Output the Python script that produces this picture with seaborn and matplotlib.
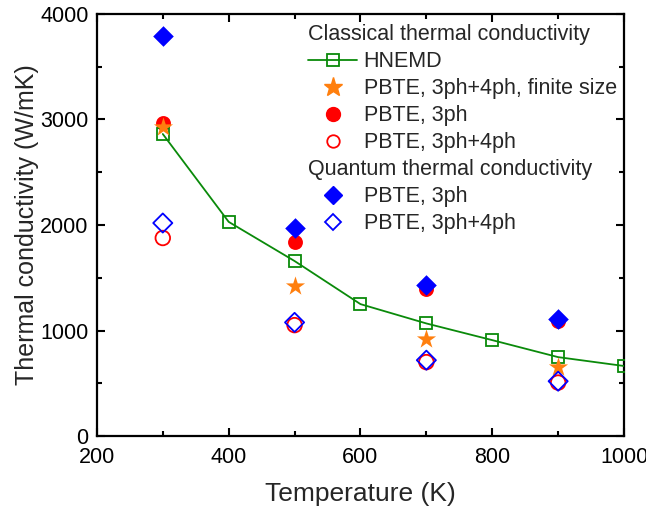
import matplotlib
matplotlib.use("Agg")
import matplotlib.pyplot as plt
import seaborn as sns
import pandas as pd
from matplotlib.lines import Line2D
from matplotlib.ticker import MultipleLocator

# ---- data ----
T_hnemd = [300, 400, 500, 600, 700, 800, 900, 1000]
k_hnemd = [2862, 2030, 1659, 1251, 1068, 910, 749, 665]

T_pbte = [300, 500, 700, 900]
k_finite = [2929, 1422, 919, 656]          # PBTE, 3ph+4ph, finite size (classical)
k_cl_3ph = [2967, 1842, 1390, 1092]        # PBTE, 3ph (classical)
k_cl_34 = [1877, 1052, 702, 508]           # PBTE, 3ph+4ph (classical)
k_q_3ph = [3791, 1972, 1431, 1109]         # PBTE, 3ph (quantum)
k_q_34 = [2019, 1078, 720, 521]            # PBTE, 3ph+4ph (quantum)

xlabel = "Temperature (K)"
ylabel = "Thermal conductivity (W/mK)"
head1 = "Classical thermal conductivity"
head2 = "Quantum thermal conductivity"
labels1 = ["HNEMD", "PBTE, 3ph+4ph, finite size", "PBTE, 3ph", "PBTE, 3ph+4ph"]
labels2 = ["PBTE, 3ph", "PBTE, 3ph+4ph"]

sns.set_style("ticks")
plt.rcParams['font.family'] = ['Liberation Sans', 'DejaVu Sans']

GREEN = "#0a8a0a"
ORANGE = "#ff7f0e"
RED = "#ff0000"
BLUE = "#0000ff"

fig = plt.figure(figsize=(6.46, 5.12), dpi=100)
ax = fig.add_axes([0.150, 0.148, 0.816, 0.825])

df_h = pd.DataFrame({"T": T_hnemd, "k": k_hnemd})
df_p = pd.DataFrame({"T": T_pbte, "fin": k_finite, "c3": k_cl_3ph, "c34": k_cl_34,
                     "q3": k_q_3ph, "q34": k_q_34})

sns.scatterplot(data=df_p, x="T", y="c3", marker="o", s=115, color=RED,
                edgecolor=RED, linewidth=0, ax=ax, legend=False, zorder=3)
sns.scatterplot(data=df_p, x="T", y="c34", marker="o", s=110, facecolor="none",
                edgecolor=RED, linewidth=1.3, ax=ax, legend=False, zorder=3)
sns.lineplot(data=df_h, x="T", y="k", color=GREEN, linewidth=1.3, marker="s",
             markersize=9, markerfacecolor="none", markeredgecolor=GREEN,
             markeredgewidth=1.3, ax=ax, legend=False, zorder=4)
sns.scatterplot(data=df_p, x="T", y="fin", marker="*", s=210, color=ORANGE,
                edgecolor=ORANGE, linewidth=0, ax=ax, legend=False, zorder=5)
sns.scatterplot(data=df_p, x="T", y="q3", marker="D", s=110, color=BLUE,
                edgecolor=BLUE, linewidth=0, ax=ax, legend=False, zorder=6)
sns.scatterplot(data=df_p, x="T", y="q34", marker="D", s=95, facecolor="none",
                edgecolor=BLUE, linewidth=1.3, ax=ax, legend=False, zorder=6)

ax.set_xlim(200, 1000)
ax.set_ylim(0, 4000)
ax.xaxis.set_major_locator(MultipleLocator(200))
ax.xaxis.set_minor_locator(MultipleLocator(100))
ax.yaxis.set_major_locator(MultipleLocator(1000))
ax.yaxis.set_minor_locator(MultipleLocator(500))
ax.tick_params(which="both", direction="in", top=True, right=True, width=1.5,
               labelsize=15.5, colors="black")
ax.tick_params(which="major", length=6)
ax.tick_params(which="minor", length=3.5)
ax.tick_params(axis="x", which="major", pad=8)
ax.tick_params(axis="y", which="major", pad=6)
for sp in ax.spines.values():
    sp.set_linewidth(1.6)
    sp.set_color("black")
ax.set_xlabel(xlabel, fontsize=19, labelpad=10)
ax.set_ylabel(ylabel, fontsize=18, labelpad=1)

h1 = [
    Line2D([], [], color=GREEN, lw=1.3, marker="s", ms=8, mfc="none", mec=GREEN, mew=1.3),
    Line2D([], [], ls="none", marker="*", ms=14, color=ORANGE),
    Line2D([], [], ls="none", marker="o", ms=10, color=RED),
    Line2D([], [], ls="none", marker="o", ms=9, mfc="none", mec=RED, mew=1.3),
]
h2 = [
    Line2D([], [], ls="none", marker="D", ms=9, color=BLUE),
    Line2D([], [], ls="none", marker="D", ms=8, mfc="none", mec=BLUE, mew=1.3),
]
common = dict(frameon=False, fontsize=15.5, title_fontsize=15.5, handlelength=2.3,
              handletextpad=0.3, labelspacing=0.28, borderpad=0, borderaxespad=0,
              alignment="left")
leg1 = ax.legend(h1, labels1, title=head1, loc="upper left",
                 bbox_to_anchor=(0.400, 0.975), **common)
ax.add_artist(leg1)
leg2 = ax.legend(h2, labels2, title=head2, loc="upper left",
                 bbox_to_anchor=(0.400, 0.656), **common)

fig.savefig("out.png", dpi=100)
